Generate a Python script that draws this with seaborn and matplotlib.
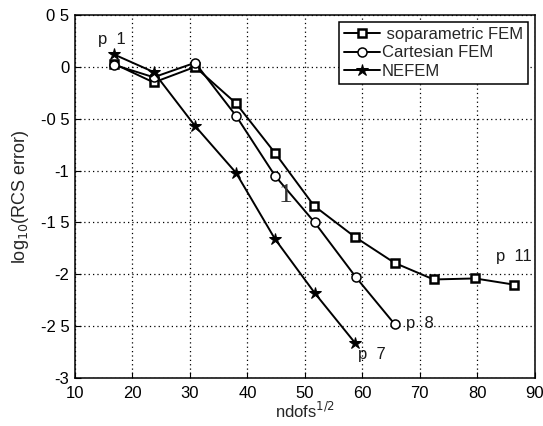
import matplotlib
matplotlib.use("Agg")
import matplotlib.pyplot as plt
import seaborn as sns
import pandas as pd

iso_x = [16.8, 23.7, 30.9, 38.0, 44.8, 51.6, 58.7, 65.6, 72.4, 79.6, 86.4]
iso_y = [0.03, -0.15, 0.00, -0.35, -0.83, -1.34, -1.64, -1.89, -2.05, -2.04, -2.10]
cart_x = [16.8, 23.7, 30.9, 38.0, 44.8, 51.7, 58.9, 65.6]
cart_y = [0.02, -0.10, 0.04, -0.47, -1.05, -1.50, -2.03, -2.48]
nef_x = [16.8, 23.7, 30.9, 38.0, 44.8, 51.7, 58.7]
nef_y = [0.12, -0.05, -0.57, -1.02, -1.66, -2.18, -2.66]
labels = [" soparametric FEM", "Cartesian FEM", "NEFEM"]
yticks = [0.5, 0, -0.5, -1, -1.5, -2, -2.5, -3]
ytick_labels = ["0 5", "0", "-0 5", "-1", "-1 5", "-2", "-2 5", "-3"]
xticks = [10, 20, 30, 40, 50, 60, 70, 80, 90]

sns.set_theme(style="ticks")
plt.rcParams['font.family'] = ['Liberation Sans', 'DejaVu Sans']

fig = plt.figure(figsize=(5.43, 4.26), dpi=100)
ax = fig.add_axes([0.138, 0.1127, 0.847, 0.852])

series = [
    (iso_x, iso_y, labels[0], dict(marker='s', markersize=6, markerfacecolor='white', markeredgecolor='black', markeredgewidth=1.8)),
    (cart_x, cart_y, labels[1], dict(marker='o', markersize=6.5, markerfacecolor='white', markeredgecolor='black', markeredgewidth=1.1)),
    (nef_x, nef_y, labels[2], dict(marker='*', markersize=9, markerfacecolor='black', markeredgecolor='black')),
]
for xs, ys, lab, kw in series:
    df = pd.DataFrame({"x": xs, "y": ys})
    sns.lineplot(data=df, x="x", y="y", ax=ax, color='black', linewidth=1.4, label=lab, **kw)

ax.set_xlim(10, 90)
ax.set_ylim(-3, 0.5)
ax.set_xticks(xticks)
ax.set_xticklabels([str(t) for t in xticks], fontsize=12)
ax.set_yticks(yticks)
ax.set_yticklabels(ytick_labels, fontsize=12)
ax.tick_params(direction='in', length=4, width=0.8, colors='black')
ax.tick_params(axis='x', pad=6)
ax.tick_params(axis='y', pad=4)
ax.grid(True, color='black', linestyle=(0, (1, 2.5)), linewidth=0.9)
for s in ax.spines.values():
    s.set_color('black')
    s.set_linewidth(1.1)

ax.set_xlabel("ndofs$^{1/2}$", fontsize=12, labelpad=0)
ax.set_ylabel("log$_{10}$(RCS error)", fontsize=13, labelpad=7)

ax.text(14.0, 0.22, "p  1", fontsize=12, color='#1a1a1a')
ax.text(83.2, -1.87, "p  11", fontsize=12, color='#1a1a1a')
ax.text(67.5, -2.52, "p  8", fontsize=12, color='#1a1a1a')
ax.text(59.2, -2.82, "p  7", fontsize=12, color='#1a1a1a')
ax.text(45.4, -1.30, "1", fontsize=20, family='Liberation Serif', color='#333333')

leg = ax.legend(loc='upper right', fontsize=12, frameon=True, fancybox=False,
                borderpad=0.3, labelspacing=0.22, handlelength=2.2, handletextpad=0.1,
                borderaxespad=0.4)
leg.get_frame().set_edgecolor('black')
leg.get_frame().set_linewidth(1.1)
leg.get_frame().set_alpha(1)

fig.savefig("out.png", dpi=100)
